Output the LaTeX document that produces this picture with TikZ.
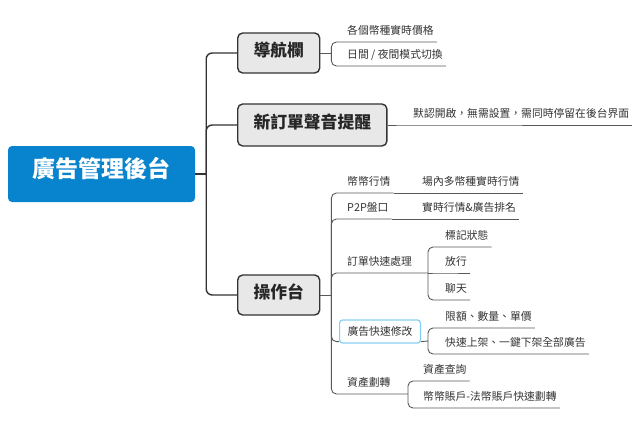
\documentclass[tikz,border=0pt]{standalone}
\usepackage{fontspec}
\setmainfont{Noto Sans CJK TC}
\definecolor{rootblue}{RGB}{8,132,206}
\definecolor{pickblue}{RGB}{135,206,245}

\begin{document}
\begin{tikzpicture}[
        x = 1pt, y = -1pt, % pixel grid, y downwards
        trunk/.style = {draw=black!80, line width=1.4pt, rounded corners=6pt}, % main branches
        twig/.style = {draw=black!65, line width=0.9pt, rounded corners=5pt} % sub branches
      ]

      \tikzstyle{root}=[rectangle, rounded corners=4pt, fill=rootblue, text=white,
        font=\bfseries\fontsize{23}{26}\selectfont, minimum width=187pt, minimum height=56pt,
        text height=0.88em, text depth=0.12em]
      \tikzstyle{topic}=[rectangle, rounded corners=5pt, draw=black!80, line width=1.4pt,
        fill=black!9, text=black!85, font=\bfseries\fontsize{16.8}{19}\selectfont,
        inner xsep=15.8pt, minimum height=40pt, text height=0.88em, text depth=0.12em, anchor=west]
      \tikzstyle{leaf}=[font=\fontsize{10.8}{12}\selectfont, text=black!80, inner xsep=3pt,
        inner ysep=0pt, text height=8pt, text depth=7.4pt, anchor=south west]
      \tikzstyle{picked}=[rectangle, rounded corners=3pt, draw=pickblue, line width=1.2pt,
        fill=white, text=black!80, font=\fontsize{10.8}{12}\selectfont, inner xsep=8pt,
        minimum height=23pt, text height=0.88em, text depth=0.12em, anchor=west]

      \useasboundingbox (0,0) rectangle (639,423);

      \node[root] (ad) at (101.5,174) {廣告管理後台};
      \node[topic] (nav) at (237,53) {導航欄};
      \node[topic, minimum height=42pt] (sound) at (237,125) {新訂單聲音提醒};
      \node[topic] (op) at (237,295) {操作台};

      \draw[trunk] (ad.east) -- ++(11,0) coordinate (adj);
      \draw[trunk] (adj) |- (nav.west);
      \draw[trunk] (adj) |- (sound.west);
      \draw[trunk] (adj) |- (op.west);

      % navigation bar
      \node[leaf] (price) at (344,42) {各個幣種實時價格};
      \node[leaf] (mode) at (344,66) {日間 / 夜間模式切換};
      \draw[twig] (nav.east) -- ++(11,0) coordinate (navj);
      \draw[twig] (navj) |- (price.south west) -- (price.south east);
      \draw[twig] (navj) |- (mode.south west) -- (mode.south east);

      % sound
      \node[leaf] (hint) at (410,125) {默認開啟，無需設置，需同時停留在後台界面};
      \draw[twig] (sound.east) -- (hint.south west) -- (hint.south east);

      % console
      \node[leaf] (coin) at (344,193) {幣幣行情};
      \node[leaf] (coin1) at (419,193) {場內多幣種實時行情};
      \node[leaf] (p2p) at (344,219) {P2P盤口};
      \node[leaf] (p2p1) at (419,219) {實時行情\&廣告排名};
      \node[leaf] (order) at (344,273) {訂單快速處理};
      \node[leaf] (mark) at (442,247) {標記狀態};
      \node[leaf] (release) at (442,273) {放行};
      \node[leaf] (chat) at (442,300) {聊天};
      \node[picked] (edit) at (339,331.5) {廣告快速修改};
      \node[leaf] (limit) at (442,328) {限額、數量、單價};
      \node[leaf] (shelf) at (442,354) {快速上架、一鍵下架全部廣告};
      \node[leaf] (asset) at (344,394) {資產劃轉};
      \node[leaf] (query) at (420,381) {資產查詢};
      \node[leaf] (move) at (420,408) {幣幣賬戶-法幣賬戶快速劃轉};

      \coordinate (orderj) at (428,273);
      \coordinate (editj) at (428,341);
      \coordinate (assetj) at (408,394);

      \draw[twig] (op.east) -- ++(11,0) coordinate (opj);
      \draw[twig] (opj) |- (coin.south west) -- (coin.south east);
      \draw[twig] (coin.south east) -- (coin1.south east);
      \draw[twig] (opj) |- (p2p.south west) -- (p2p.south east);
      \draw[twig] (p2p.south east) -- (p2p1.south east);
      \draw[twig] (opj) |- (order.south west) -- (orderj);
      \draw[twig] (orderj) |- (mark.south west) -- (mark.south east);
      \draw[twig] (orderj) -- (release.south west) -- (release.south east);
      \draw[twig] (orderj) |- (chat.south west) -- (chat.south east);
      \draw[twig] (opj) |- ([yshift=2pt]edit.south west);
      \draw[twig] ([yshift=2pt]edit.south east) -- (editj);
      \draw[twig] (editj) |- (limit.south west) -- (limit.south east);
      \draw[twig] (editj) |- (shelf.south west) -- (shelf.south east);
      \draw[twig] (opj) |- (asset.south west) -- (assetj);
      \draw[twig] (assetj) |- (query.south west) -- (query.south east);
      \draw[twig] (assetj) |- (move.south west) -- (move.south east);

    \end{tikzpicture}
\end{document}
